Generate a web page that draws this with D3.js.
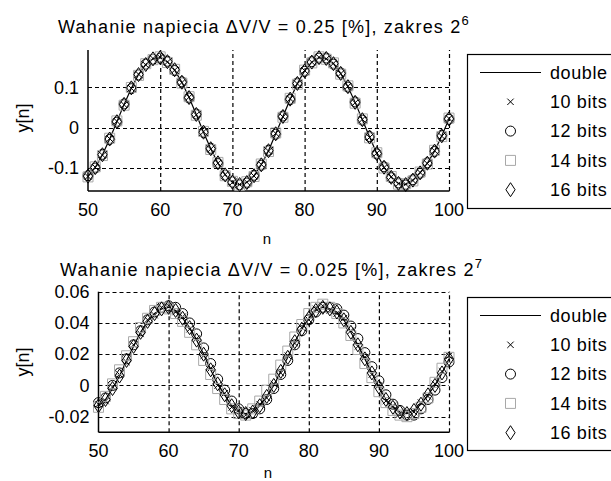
<!DOCTYPE html>
<html lang="en">
<head>
<meta charset="UTF-8">
<title>Wahanie napiecia</title>
<style>
  body, html { margin: 0; padding: 0; background: #fff; }
  #svg { display: block; font-family: "Liberation Sans", Arial, sans-serif; }
</style>
</head>
<body>
<svg id="svg" width="611" height="481"></svg>
<script src="https://d3js.org/d3.v7.min.js"></script>
<script>
// sample index n = 50..100
const nVals = d3.range(50, 101)

// panel 1: dV/V = 0.25 %, range 2^6
const topDouble = [-0.120,-0.099,-0.067,-0.028,0.015,0.058,0.098,0.132,0.157,0.171,
  0.174,0.164,0.143,0.113,0.075,0.033,-0.011,-0.052,-0.088,-0.117,
  -0.135,-0.141,-0.136,-0.119,-0.092,-0.057,-0.015,0.028,0.071,0.110,
  0.141,0.163,0.174,0.172,0.159,0.135,0.102,0.063,0.020,-0.023,
  -0.064,-0.098,-0.123,-0.138,-0.141,-0.130,-0.112,-0.088,-0.058,-0.020,
  0.022]
const top10 = [-0.121,-0.098,-0.068,-0.027,0.016,0.057,0.098,0.133,0.156,0.172,
  0.175,0.163,0.143,0.112,0.076,0.032,-0.010,-0.053,-0.088,-0.116,
  -0.136,-0.141,-0.135,-0.120,-0.091,-0.058,-0.014,0.027,0.072,0.109,
  0.142,0.163,0.175,0.171,0.160,0.134,0.103,0.062,0.021,-0.024,
  -0.063,-0.099,-0.122,-0.139,-0.140,-0.131,-0.111,-0.089,-0.057,-0.021,
  0.023]
const top12 = [-0.119,-0.100,-0.066,-0.029,0.014,0.059,0.097,0.131,0.158,0.170,
  0.173,0.165,0.142,0.114,0.074,0.034,-0.012,-0.051,-0.089,-0.118,
  -0.134,-0.142,-0.137,-0.118,-0.093,-0.056,-0.016,0.029,0.070,0.111,
  0.140,0.164,0.173,0.173,0.158,0.136,0.101,0.064,0.019,-0.022,
  -0.065,-0.097,-0.124,-0.137,-0.142,-0.129,-0.113,-0.087,-0.059,-0.019,
  0.021]
const top14 = [-0.122,-0.097,-0.069,-0.026,0.017,0.056,0.100,0.130,0.159,0.169,
  0.176,0.162,0.145,0.111,0.077,0.031,-0.009,-0.054,-0.086,-0.119,
  -0.133,-0.143,-0.134,-0.121,-0.090,-0.059,-0.013,0.026,0.073,0.108,
  0.143,0.161,0.176,0.170,0.161,0.133,0.104,0.061,0.022,-0.025,
  -0.062,-0.100,-0.121,-0.140,-0.139,-0.132,-0.110,-0.090,-0.056,-0.022,
  0.024]
const top16 = [-0.120,-0.099,-0.067,-0.028,0.015,0.058,0.099,0.132,0.157,0.171,
  0.174,0.164,0.144,0.113,0.075,0.033,-0.011,-0.052,-0.087,-0.117,
  -0.135,-0.141,-0.136,-0.119,-0.092,-0.057,-0.015,0.028,0.071,0.110,
  0.141,0.163,0.174,0.172,0.159,0.135,0.102,0.063,0.020,-0.023,
  -0.064,-0.098,-0.123,-0.138,-0.141,-0.130,-0.112,-0.088,-0.058,-0.020,
  0.022]

// panel 2: dV/V = 0.025 %, range 2^7
const botDouble = [-0.013,-0.009,-0.002,0.006,0.016,0.025,0.034,0.041,0.046,0.049,
  0.050,0.048,0.043,0.037,0.029,0.020,0.010,0.001,-0.006,-0.013,
  -0.017,-0.018,-0.017,-0.013,-0.007,0.000,0.009,0.018,0.028,0.036,
  0.043,0.048,0.050,0.049,0.047,0.042,0.034,0.026,0.017,0.008,
  -0.001,-0.009,-0.014,-0.017,-0.018,-0.016,-0.012,-0.006,0.000,0.008,
  0.017]
const bot10 = [-0.012,-0.010,-0.001,0.007,0.015,0.026,0.033,0.042,0.045,0.050,
  0.051,0.047,0.044,0.036,0.030,0.019,0.011,0.000,-0.005,-0.014,
  -0.016,-0.019,-0.016,-0.012,-0.008,0.001,0.008,0.019,0.027,0.037,
  0.042,0.049,0.051,0.048,0.046,0.043,0.035,0.025,0.018,0.007,
  0.000,-0.010,-0.013,-0.018,-0.017,-0.017,-0.011,-0.007,0.001,0.009,
  0.019]
const bot12 = [-0.011,-0.008,0.000,0.008,0.017,0.026,0.035,0.042,0.047,0.050,
  0.051,0.050,0.046,0.040,0.033,0.024,0.014,0.004,-0.003,-0.010,
  -0.015,-0.018,-0.018,-0.015,-0.009,-0.002,0.007,0.016,0.026,0.035,
  0.042,0.047,0.050,0.050,0.049,0.045,0.038,0.030,0.021,0.012,
  0.003,-0.006,-0.012,-0.016,-0.019,-0.019,-0.015,-0.009,-0.003,0.005,
  0.015]
const bot14 = [-0.014,-0.007,0.001,0.010,0.019,0.028,0.037,0.043,0.048,0.050,
  0.049,0.046,0.041,0.034,0.026,0.016,0.007,-0.002,-0.009,-0.015,
  -0.018,-0.019,-0.015,-0.010,-0.003,0.004,0.013,0.022,0.031,0.039,
  0.046,0.050,0.052,0.050,0.046,0.040,0.032,0.023,0.014,0.005,
  -0.004,-0.011,-0.016,-0.019,-0.020,-0.018,-0.014,-0.008,0.002,0.011,
  0.018]
const bot16 = [-0.013,-0.009,-0.002,0.006,0.016,0.025,0.034,0.041,0.046,0.049,
  0.050,0.048,0.043,0.037,0.029,0.020,0.010,0.001,-0.006,-0.013,
  -0.017,-0.018,-0.017,-0.013,-0.007,0.000,0.009,0.018,0.028,0.036,
  0.043,0.048,0.050,0.049,0.047,0.042,0.034,0.026,0.017,0.008,
  -0.001,-0.009,-0.014,-0.017,-0.018,-0.016,-0.012,-0.006,0.000,0.008,
  0.017]

const legendLabels = ['double', '10 bits', '12 bits', '14 bits', '16 bits']
const xTicks = [50, 60, 70, 80, 90, 100]
const topYTicks = [-0.1, 0, 0.1]
const topYLabels = ['-0.1', '0', '0.1']
const botYTicks = [-0.02, 0, 0.02, 0.04, 0.06]
const botYLabels = ['-0.02', '0', '0.02', '0.04', '0.06']

const svg = d3.select('#svg')
const FONT = 18

// marker shapes (centered at 0,0)
function xMark(s) { return `M${-s},${-s}L${s},${s}M${-s},${s}L${s},${-s}` }
function circleMark(r) { const p = d3.path(); p.arc(0, 0, r, 0, 2 * Math.PI); return p.toString() }
function squareMark(s) { return `M${-s},${-s}H${s}V${s}H${-s}Z` }
function diamondMark(w, h) { return `M0,${-h}L${w},0L0,${h}L${-w},0Z` }

const markers = [
  { d: xMark(3.2), stroke: '#000' },
  { d: circleMark(5), stroke: '#000' },
  { d: squareMark(5), stroke: '#a8a8a8' },
  { d: diamondMark(4.6, 7), stroke: '#000' }
]

function drawPanel(cfg) {
  const g = svg.append('g')
  const xscale = d3.scaleLinear().domain([50, 100]).range(cfg.xRange)
  const yscale = d3.scaleLinear().domain(cfg.yDomain).range(cfg.yRange)

  // grid (dashed)
  g.selectAll('.vgrid').data(xTicks.slice(1)).join('line')
    .attr('x1', d => xscale(d) + 0.5).attr('x2', d => xscale(d) + 0.5)
    .attr('y1', cfg.yRange[0]).attr('y2', cfg.yRange[1])
    .attr('stroke', '#000').attr('stroke-width', 1.2).attr('stroke-dasharray', '4,3')
  g.selectAll('.hgrid').data(cfg.yTicks).join('line')
    .attr('x1', cfg.xRange[0]).attr('x2', cfg.xRange[1])
    .attr('y1', d => Math.round(yscale(d)) + 0.5).attr('y2', d => Math.round(yscale(d)) + 0.5)
    .attr('stroke', '#000').attr('stroke-width', 1.2).attr('stroke-dasharray', '4,3')

  // axes lines (left + bottom)
  g.append('line')
    .attr('x1', cfg.xRange[0]).attr('x2', cfg.xRange[0])
    .attr('y1', cfg.yRange[0]).attr('y2', cfg.yRange[1])
    .attr('stroke', '#000').attr('stroke-width', 1.5)
  g.append('line')
    .attr('x1', cfg.xRange[0]).attr('x2', cfg.xRange[1] + 0.5)
    .attr('y1', cfg.yRange[0]).attr('y2', cfg.yRange[0])
    .attr('stroke', '#000').attr('stroke-width', 1.5)

  // tick labels
  g.selectAll('.xt').data(xTicks).join('text')
    .attr('x', d => xscale(d)).attr('y', cfg.yRange[0] + 25)
    .attr('text-anchor', 'middle').attr('font-size', FONT).attr('fill', '#000')
    .text(d => d)
  g.selectAll('.yt').data(cfg.yTicks).join('text')
    .attr('x', cfg.xRange[0] - 9).attr('y', d => yscale(d)).attr('dy', '0.35em')
    .attr('text-anchor', 'end').attr('font-size', FONT).attr('fill', '#000')
    .text((d, i) => cfg.yLabels[i])

  // axis labels
  g.append('text')
    .attr('transform', `translate(${cfg.yLabelX},${cfg.yLabelY}) rotate(-90)`)
    .attr('text-anchor', 'middle').attr('dy', '0.35em').attr('font-size', FONT)
    .text('y[n]')
  g.append('text')
    .attr('x', cfg.xLabelX).attr('y', cfg.xLabelY)
    .attr('text-anchor', 'middle').attr('font-size', FONT - 3)
    .text('n')

  // title
  const title = g.append('text')
    .attr('x', cfg.titleX).attr('y', cfg.titleY)
    .attr('font-size', FONT).attr('letter-spacing', 1.2)
  title.append('tspan').text(cfg.title)
  title.append('tspan').attr('font-size', FONT - 5).attr('dy', -8).text(cfg.exp)

  // double: solid line
  const linegen = d3.line()
    .x((d, i) => xscale(nVals[i]))
    .y(d => yscale(d))
  g.append('path')
    .attr('d', linegen(cfg.series[0]))
    .attr('fill', 'none').attr('stroke', '#000').attr('stroke-width', 1.2)

  // quantized series markers
  cfg.series.slice(1).forEach((vals, k) => {
    g.selectAll(null).data(vals).join('path')
      .attr('transform', (d, i) => `translate(${xscale(nVals[i])},${yscale(d)})`)
      .attr('d', markers[k].d)
      .attr('fill', 'none').attr('stroke', markers[k].stroke).attr('stroke-width', 1)
  })

  // legend
  const lg = g.append('g')
  lg.append('rect')
    .attr('x', 467.5).attr('y', cfg.legendY + 0.5)
    .attr('width', 200).attr('height', cfg.legendH)
    .attr('fill', '#fff').attr('stroke', '#000').attr('stroke-width', 1.2)
  legendLabels.forEach((lab, i) => {
    const cy = cfg.legendY + 18.5 + i * 29.3
    if (i === 0) {
      lg.append('line').attr('x1', 480).attr('x2', 541).attr('y1', cy).attr('y2', cy)
        .attr('stroke', '#000').attr('stroke-width', 1.2)
    } else {
      lg.append('path').attr('transform', `translate(510.5,${cy})`)
        .attr('d', markers[i - 1].d)
        .attr('fill', 'none').attr('stroke', markers[i - 1].stroke).attr('stroke-width', 1)
    }
    lg.append('text').attr('x', 550).attr('y', cy).attr('dy', '0.35em')
      .attr('font-size', FONT).attr('letter-spacing', 0.6).text(lab)
  })
}

drawPanel({
  xRange: [88, 449], yDomain: [-0.157, 0.193], yRange: [191, 50],
  yTicks: topYTicks, yLabels: topYLabels,
  yLabelX: 23, yLabelY: 118, xLabelX: 267, xLabelY: 244,
  titleX: 58, titleY: 33,
  title: 'Wahanie napiecia \u0394V/V = 0.25 [%], zakres 2', exp: '6',
  legendY: 54, legendH: 154,
  series: [topDouble, top10, top12, top14, top16]
})

drawPanel({
  xRange: [98.5, 449], yDomain: [-0.03, 0.06], yRange: [432.3, 291.7],
  yTicks: botYTicks, yLabels: botYLabels,
  yLabelX: 23, yLabelY: 362, xLabelX: 268, xLabelY: 478,
  titleX: 60, titleY: 276,
  title: 'Wahanie napiecia \u0394V/V = 0.025 [%], zakres 2', exp: '7',
  legendY: 297, legendH: 153,
  series: [botDouble, bot10, bot12, bot14, bot16]
})
</script>
</body>
</html>
